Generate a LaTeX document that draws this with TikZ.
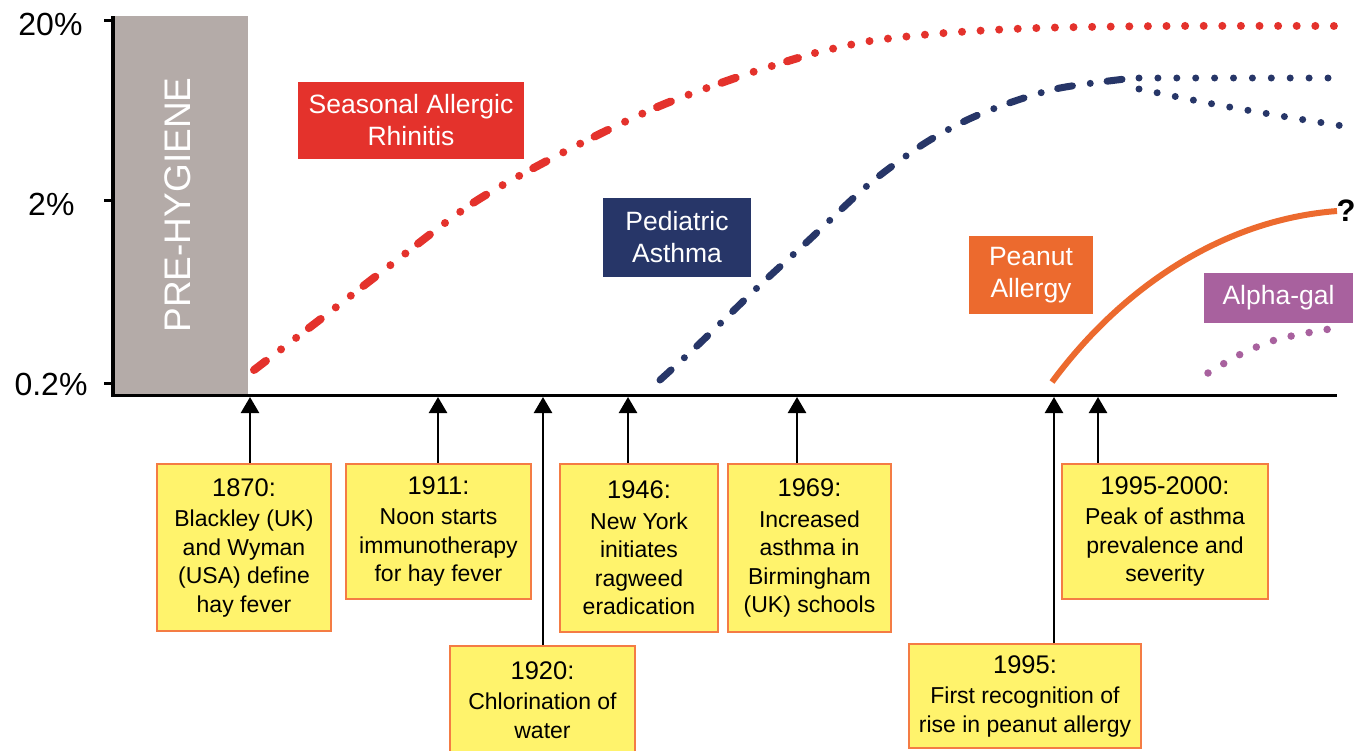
\documentclass[tikz,border=0pt]{standalone}
\usepackage{fontspec}
\setmainfont{Liberation Sans}
\usetikzlibrary{arrows.meta}

\definecolor{hygienegray}{HTML}{B4ABA8}
\definecolor{rhinred}{HTML}{E4322C}
\definecolor{asthmanavy}{HTML}{273668}
\definecolor{peanutorange}{HTML}{EC6A2E}
\definecolor{alphapurple}{HTML}{A8619E}
\definecolor{eventfill}{HTML}{FFF36C}
\definecolor{eventedge}{HTML}{F47C44}

\tikzset{
  eventbox/.style={draw=eventedge, fill=eventfill, line width=1.8pt, align=center,
    inner sep=0pt, font=\fontsize{23}{28.5}\selectfont},
  tagbox/.style={text=white, align=center, inner sep=0pt, font=\fontsize{26.5}{32}\selectfont},
  eventarrow/.style={line width=2.5pt, -{Triangle[width=18pt,length=16pt]}},
  dotline/.style={line cap=round, dash pattern=on 0pt off #1},
}
\newcommand{\evyear}[1]{{\fontsize{25.5}{28.5}\selectfont #1}}

\begin{document}
\begin{tikzpicture}[x=1pt, y=-1pt]
        \useasboundingbox (0,0) rectangle (1363,750);

        % Pre-hygiene band
        \fill[hygienegray] (115,16) rectangle (248,394);
        \node[rotate=90, text=white, font=\fontsize{37}{40}\selectfont] (prehyg) at (178,205) {PRE-HYGIENE};

        % Axes
        \draw[line width=4pt] (113,16) -- (113,397);
        \draw[line width=3pt] (111,395.5) -- (1337,395.5);

        % Ticks and prevalence labels
        \draw[line width=3pt] (104,20) -- (113,20);
        \draw[line width=3pt] (104,200) -- (113,200);
        \draw[line width=3pt] (104,383) -- (113,383);
        \node[anchor=base east, font=\fontsize{32}{36}\selectfont] (p20) at (86,35) {20\%};
        \node[anchor=base east, font=\fontsize{32}{36}\selectfont] (p2) at (78,215) {2\%};
        \node[anchor=base east, font=\fontsize{32}{36}\selectfont] (p02) at (91,395) {0.2\%};

        % Seasonal allergic rhinitis
        \draw[rhinred, line width=8pt, line cap=round,
              dash pattern=on 15pt off 19pt on 0pt off 19pt on 0pt off 16pt]
              plot[smooth] coordinates {(254,370) (322,318) (388,267) (473,203) (562,153) (655,108) (738,77) (798,58)};
        \draw[rhinred, line width=8pt, dotline=18.6pt]
              plot[smooth] coordinates {(815,53) (870,41) (945,33) (1038,28) (1170,26) (1338,26)};

        % Pediatric asthma
        \draw[asthmanavy, line width=7pt, line cap=round,
              dash pattern=on 15pt off 18pt on 0pt off 17pt]
              plot[smooth] coordinates {(660,380) (698,345) (758,287) (808,241) (868,185) (922,145) (967,120) (1012,102) (1060,88) (1125,79)};
        \draw[asthmanavy, line width=7pt, dotline=18.9pt] (1139,78) -- (1328,78);
        \draw[asthmanavy, line width=7pt, dotline=18.5pt]
              plot[smooth] coordinates {(1139,89) (1213,104) (1287,117) (1343,126)};

        % Peanut allergy
        \draw[peanutorange, line width=6pt] (1052,382) .. controls (1120,290) and (1220,220) .. (1337,211);
        \node[font=\bfseries\fontsize{31}{34}\selectfont] (qmark) at (1346,211) {?};

        % Alpha-gal
        \draw[alphapurple, line width=7.5pt, dotline=18.3pt]
              plot[smooth] coordinates {(1208,373) (1241,354) (1275,340) (1312,332) (1330,329)};

        % Disease tags
        \node[tagbox, fill=rhinred, minimum width=226pt, minimum height=77pt] (rhinitis) at (411,120.5) {Seasonal Allergic\\Rhinitis};
        \node[tagbox, fill=asthmanavy, minimum width=148pt, minimum height=79pt] (asthma) at (677,237.5) {Pediatric\\Asthma};
        \node[tagbox, fill=peanutorange, minimum width=124pt, minimum height=78pt] (peanut) at (1031,275) {Peanut\\Allergy};
        \node[tagbox, fill=alphapurple, minimum width=149pt, minimum height=50pt] (alphagal) at (1278.5,298) {Alpha-gal};

        % Events on the time axis
        \coordinate (t1870) at (250,397);
        \coordinate (t1911) at (438,397);
        \coordinate (t1920) at (543,397);
        \coordinate (t1946) at (628,397);
        \coordinate (t1969) at (797,397);
        \coordinate (t1995) at (1054,397);
        \coordinate (t9500) at (1098,397);

        \node[eventbox, minimum width=174pt, minimum height=167pt] (e1870) at (244,547.5)
              {\evyear{1870:}\\[2pt]Blackley (UK)\\and Wyman\\(USA) define\\hay fever};
        \node[eventbox, minimum width=185pt, minimum height=135pt] (e1911) at (438.5,531.5)
              {\evyear{1911:}\\[2pt]Noon starts\\immunotherapy\\for hay fever};
        \node[eventbox, minimum width=185pt, minimum height=108pt] (e1920) at (542.5,700)
              {\evyear{1920:}\\[2pt]Chlorination of\\water};
        \node[eventbox, minimum width=158pt, minimum height=168pt] (e1946) at (639,548)
              {\evyear{1946:}\\[2pt]New York\\initiates\\ragweed\\eradication};
        \node[eventbox, minimum width=163pt, minimum height=168pt] (e1969) at (809.5,548)
              {\evyear{1969:}\\[2pt]Increased\\asthma in\\Birmingham\\(UK) schools};
        \node[eventbox, minimum width=232pt, minimum height=104pt] (e1995) at (1025,696)
              {\evyear{1995:}\\[2pt]First recognition of\\rise in peanut allergy};
        \node[eventbox, minimum width=206pt, minimum height=135pt] (e9500) at (1165,531.5)
              {\evyear{1995-2000:}\\[2pt]Peak of asthma\\prevalence and\\severity};

        \draw[eventarrow] (t1870 |- e1870.north) -- (t1870);
        \draw[eventarrow] (t1911 |- e1911.north) -- (t1911);
        \draw[eventarrow] (t1920 |- e1920.north) -- (t1920);
        \draw[eventarrow] (t1946 |- e1946.north) -- (t1946);
        \draw[eventarrow] (t1969 |- e1969.north) -- (t1969);
        \draw[eventarrow] (t1995 |- e1995.north) -- (t1995);
        \draw[eventarrow] (t9500 |- e9500.north) -- (t9500);
\end{tikzpicture}
\end{document}
